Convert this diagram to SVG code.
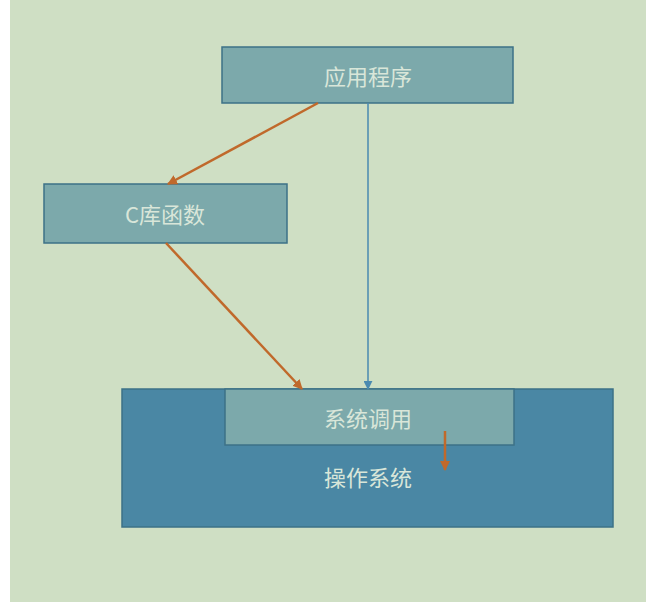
<svg xmlns="http://www.w3.org/2000/svg" width="657" height="602" viewBox="0 0 657 602">
<style>
.box{fill:#7ca9ab;stroke:#3d7287;stroke-width:1.5}
.t{font-family:"Noto Sans CJK SC",sans-serif;font-size:22px;fill:#d9e6d9;text-anchor:middle;dominant-baseline:central}
.o{stroke:#c0692b;stroke-width:2.5;fill:none}
.b{stroke:#4a8ab0;stroke-width:1.5;fill:none}
</style>
<defs>
<marker id="ao" viewBox="0 0 10 10" refX="9" refY="5" markerWidth="4" markerHeight="4" orient="auto"><path d="M0,0L10,5L0,10z" fill="#c0692b"/></marker>
<marker id="ab" viewBox="0 0 10 10" refX="9" refY="5" markerWidth="6" markerHeight="6" orient="auto"><path d="M0,0L10,5L0,10z" fill="#4a8ab0"/></marker>
</defs>
<rect width="657" height="602" fill="#ffffff"/>
<rect x="10" y="0" width="636" height="602" fill="#cfdfc4"/>
<g id="os"><rect x="122" y="389" width="491" height="138" fill="#4a87a4" stroke="#3d7287" stroke-width="1.5"/><text class="t" x="368" y="476">操作系统</text></g>
<g id="syscall"><rect class="box" x="225" y="389" width="289" height="56"/><text class="t" x="368" y="417">系统调用</text></g>
<g id="app"><rect class="box" x="222" y="47" width="291" height="56"/><text class="t" x="368" y="75">应用程序</text></g>
<g id="clib"><rect class="box" x="44" y="184" width="243" height="59"/><text class="t" x="165" y="213">C库函数</text></g>
<g id="connectors">
<path class="o" d="M318,103L168,184" marker-end="url(#ao)"/>
<path class="o" d="M166,243L302,389" marker-end="url(#ao)"/>
<path class="b" d="M368,103L368,389" marker-end="url(#ab)"/>
<path class="o" d="M445,431L445,470" marker-end="url(#ao)"/>
</g>
</svg>
